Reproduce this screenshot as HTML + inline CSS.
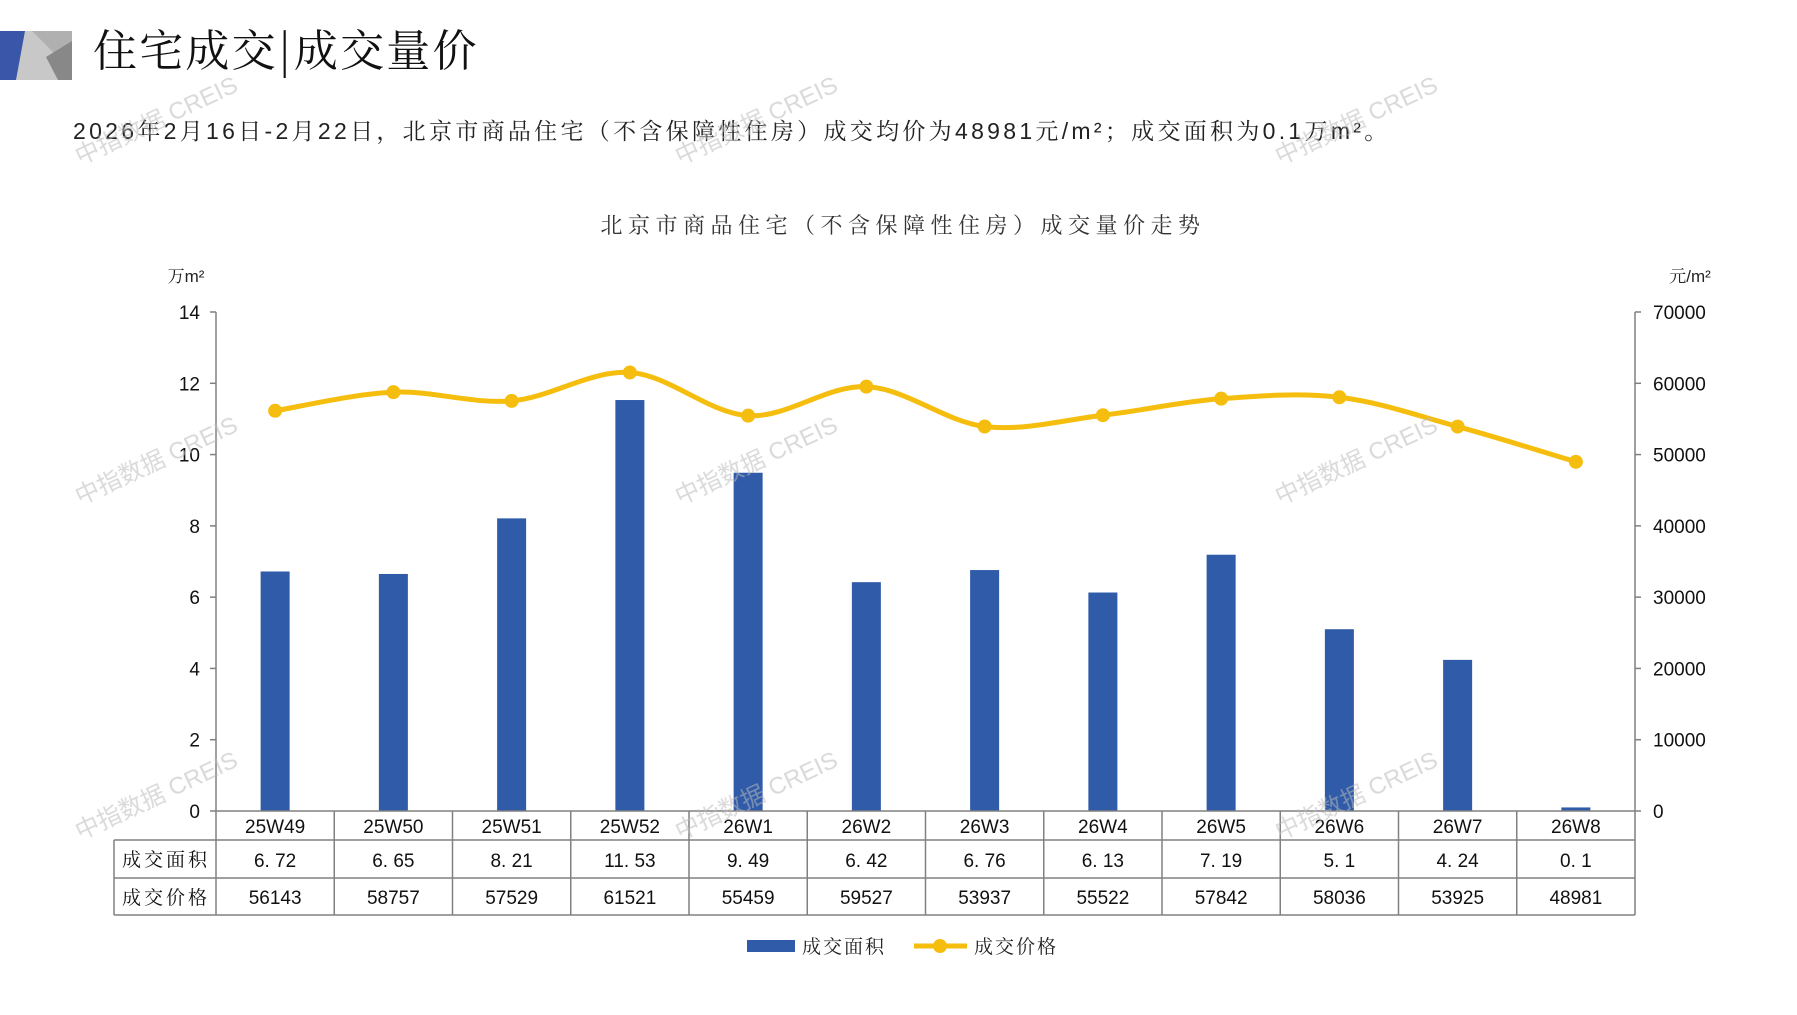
<!DOCTYPE html>
<html><head><meta charset="utf-8"><style>
html,body{margin:0;padding:0;background:#fff;}
body{width:1797px;height:1010px;overflow:hidden;position:relative;font-family:"Liberation Sans","Noto Sans CJK SC",sans-serif;}
</style></head><body>
<svg id="s" width="1797" height="1010" viewBox="0 0 1797 1010" xmlns="http://www.w3.org/2000/svg" font-family="'Liberation Sans','Noto Sans CJK SC',sans-serif">
<polygon points="0,31 32,31 16,80 0,80" fill="#3a56a8"/>
<polygon points="25,31 72,31 72,80 16,80" fill="#c8c8c8"/>
<polygon points="32,31 72,31 72,71" fill="#b0b0b0"/>
<polygon points="46,57 72,41 72,80 58,80" fill="#888"/>
<text x="93" y="66" font-size="44" font-family="'Noto Serif CJK SC',serif" letter-spacing="2.2" fill="#111">住宅成交|成交量价</text>
<text x="73" y="139" font-size="23" fill="#222" letter-spacing="3.3" font-family="'Liberation Sans','Noto Serif CJK SC',serif">2026年2月16日-2月22日，北京市商品住宅（不含保障性住房）成交均价为48981元/m²；成交面积为0.1万m²。</text>
<text x="903" y="233" font-size="22" text-anchor="middle" fill="#333" letter-spacing="5.5" font-family="'Liberation Sans','Noto Serif CJK SC',serif">北京市商品住宅（不含保障性住房）成交量价走势</text>
<text x="186" y="282" font-size="17" text-anchor="middle" fill="#222" font-family="'Liberation Sans','Noto Serif CJK SC',serif">万m²</text>
<text x="1690" y="282" font-size="17" text-anchor="middle" fill="#222" font-family="'Liberation Sans','Noto Serif CJK SC',serif">元/m²</text>
<g id="ax" stroke="#808080" stroke-width="1.5" fill="none"></g>
<g id="bars" fill="#2f5ba8"></g>
<path id="ln" fill="none" stroke="#f5be0f" stroke-width="5"/>
<g id="dots" fill="#f5be0f"></g>
<g id="lbl" font-size="19" fill="#111"></g>
<g id="tbl" stroke="#808080" stroke-width="1.5" fill="none"></g>
<g id="tt" font-size="19" fill="#111" text-anchor="middle"></g>
<rect x="747" y="940" width="48" height="12" fill="#2f5ba8"/>
<text x="802" y="953" font-size="19" fill="#222" letter-spacing="2" font-family="'Noto Serif CJK SC',serif">成交面积</text>
<line x1="914" y1="946" x2="967" y2="946" stroke="#f5be0f" stroke-width="5"/>
<circle cx="940" cy="946" r="7" fill="#f5be0f"/>
<text x="974" y="953" font-size="19" fill="#222" letter-spacing="2" font-family="'Noto Serif CJK SC',serif">成交价格</text>
<g id="wm" font-size="24" fill="#bbb" opacity="0.55"></g>
</svg>
<script>
var NS="http://www.w3.org/2000/svg";
function el(p,t,a,txt){var e=document.createElementNS(NS,t);for(var k in a)e.setAttribute(k,a[k]);if(txt!=null)e.textContent=txt;document.getElementById(p).appendChild(e);return e;}
var cats=["25W49","25W50","25W51","25W52","26W1","26W2","26W3","26W4","26W5","26W6","26W7","26W8"];
var area=[6.72,6.65,8.21,11.53,9.49,6.42,6.76,6.13,7.19,5.1,4.24,0.1];
var areaT=["6. 72","6. 65","8. 21","11. 53","9. 49","6. 42","6. 76","6. 13","7. 19","5. 1","4. 24","0. 1"];
var price=[56143,58757,57529,61521,55459,59527,53937,55522,57842,58036,53925,48981];
var L=216,R=1635,T=312,B=811,W=(R-L)/12,H=B-T;
el("ax","line",{x1:L,y1:T,x2:L,y2:B});
el("ax","line",{x1:R,y1:T,x2:R,y2:B});
for(var i=0;i<=7;i++){var y=B-H*i/7;
 el("ax","line",{x1:L-6,y1:y,x2:L,y2:y});el("ax","line",{x1:R,y1:y,x2:R+6,y2:y});
 el("lbl","text",{x:200,y:y+7,"text-anchor":"end"},String(i*2));
 el("lbl","text",{x:1653,y:y+7},String(i*10000));}
var pts=[];
for(var i=0;i<12;i++){var cx=L+W*(i+.5);var h=area[i]/14*H;
 el("bars","rect",{x:cx-14.5,y:B-h,width:29,height:h});
 pts.push([cx,B-price[i]/70000*H]);}
var d="M"+pts[0][0]+","+pts[0][1];
for(var i=0;i<11;i++){var p0=pts[Math.max(i-1,0)],p1=pts[i],p2=pts[i+1],p3=pts[Math.min(i+2,11)];
 var c1=[p1[0]+(p2[0]-p0[0])/6,p1[1]+(p2[1]-p0[1])/6],c2=[p2[0]-(p3[0]-p1[0])/6,p2[1]-(p3[1]-p1[1])/6];
 d+=" C"+c1+" "+c2+" "+p2;}
document.getElementById("ln").setAttribute("d",d);
pts.forEach(function(p){el("dots","circle",{cx:p[0],cy:p[1],r:7});});
var r1=840,r2=878,r3=915,TL=114;
el("tbl","line",{x1:L,y1:B,x2:R,y2:B});
el("tbl","line",{x1:TL,y1:r1,x2:R,y2:r1});
el("tbl","line",{x1:TL,y1:r2,x2:R,y2:r2});
el("tbl","line",{x1:TL,y1:r3,x2:R,y2:r3});
el("tbl","line",{x1:TL,y1:r1,x2:TL,y2:r3});
for(var i=0;i<=12;i++){var x=L+W*i;el("tbl","line",{x1:x,y1:B,x2:x,y2:r3});}
el("tt","text",{x:166,y:866,"letter-spacing":"3","font-family":"'Noto Serif CJK SC',serif"},"成交面积");
el("tt","text",{x:166,y:904,"letter-spacing":"3","font-family":"'Noto Serif CJK SC',serif"},"成交价格");
for(var i=0;i<12;i++){var cx=L+W*(i+.5);
 el("tt","text",{x:cx,y:833},cats[i]);
 el("tt","text",{x:cx,y:867},areaT[i]);
 el("tt","text",{x:cx,y:904},String(price[i]));}
[[80,165],[680,165],[1280,165],[80,505],[680,505],[1280,505],[80,840],[680,840],[1280,840]].forEach(function(p){
 el("wm","text",{x:p[0],y:p[1],transform:"rotate(-25 "+p[0]+" "+p[1]+")"},"中指数据 CREIS");});
</script>
</body></html>
